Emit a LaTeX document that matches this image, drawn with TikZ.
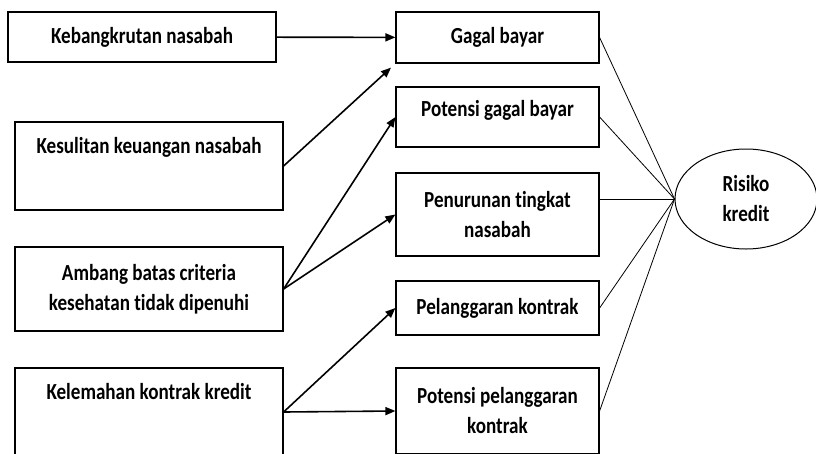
\documentclass[tikz,border=0pt]{standalone}
\usepackage{fontspec}
\setmainfont{Carlito}[Ligatures=NoCommon, FakeStretch=0.83]
\usepackage{tikz}
\usetikzlibrary{shapes.geometric, arrows.meta, positioning}
\tikzstyle{box} = [rectangle, draw=black, line width=1.2pt, align=center,
    font=\fontsize{23}{30}\selectfont\bfseries]
\tikzstyle{leftbox} = [box, minimum width=268pt]
\tikzstyle{midbox} = [box, minimum width=203pt]
\tikzstyle{arrow} = [line width=1.6pt, -{Triangle[length=10pt,width=8pt]}]
\tikzstyle{link} = [line width=0.8pt]

\begin{document}
\begin{tikzpicture}[x=1pt, y=-1pt]
  \useasboundingbox (0,0) rectangle (816,453);
  \clip (0,0) rectangle (816,453);

  % causes
  \node (bangkrut) [leftbox, minimum height=50pt] at (142,37) {Kebangkrutan nasabah};
  \node (sulit)    [leftbox, minimum height=88pt] at (149,166) {Kesulitan keuangan nasabah\\[12pt]\mbox{}};
  \node (ambang)   [leftbox, minimum height=84pt] at (149,289) {Ambang batas criteria\\kesehatan tidak dipenuhi};
  \node (lemah)    [leftbox, minimum height=88pt] at (149,412) {Kelemahan kontrak kredit\\[12pt]\mbox{}};

  % events
  \node (gagal)      [midbox, minimum height=51pt] at (497.5,37.5) {Gagal bayar};
  \node (potgagal)   [midbox, minimum height=60pt, text depth=18pt] at (497.5,117) {Potensi gagal bayar};
  \node (turun)      [midbox, minimum height=83pt] at (497.5,214.5) {Penurunan tingkat\\nasabah};
  \node (langgar)    [midbox, minimum height=54pt] at (497.5,308) {Pelanggaran kontrak};
  \node (potlanggar) [midbox, minimum height=86pt] at (497.5,411) {Potensi pelanggaran\\kontrak};

  \node (risiko) [ellipse, draw=black, line width=1pt, minimum width=142pt, minimum height=100pt,
    align=center, font=\fontsize{23}{30}\selectfont\bfseries] at (746,199) {Risiko\\kredit};

  \draw[arrow] (bangkrut) -- (gagal);
  \draw[arrow, shorten >=6pt] (sulit.east) -- (gagal.south west);
  \draw[arrow] (ambang.east) -- (potgagal.west);
  \draw[arrow] (ambang.east) -- (turun.west);
  \draw[arrow] (lemah.east) -- (langgar.west);
  \draw[arrow] (lemah.east) -- (potlanggar.west);

  \draw[link] (gagal.east) -- (risiko.west);
  \draw[link] (potgagal.east) -- (risiko.west);
  \draw[link] (turun.east |- risiko.west) -- (risiko.west);
  \draw[link] (langgar.east) -- (risiko.west);
  \draw[link] (potlanggar.east) -- (risiko.west);
\end{tikzpicture}
\end{document}
